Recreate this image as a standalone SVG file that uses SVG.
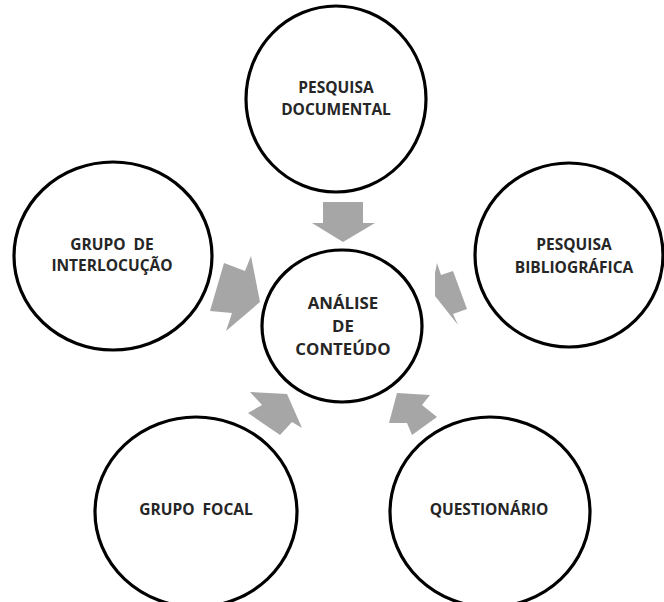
<svg xmlns="http://www.w3.org/2000/svg" width="664" height="602" viewBox="0 0 664 602">
<style>
.node{fill:#ffffff;stroke:#000000;stroke-width:3.2}
.lbl{font-family:"Open Sans","Liberation Sans",sans-serif;font-weight:700;font-size:15.5px;fill:#262626;text-anchor:middle;white-space:pre}
.big{font-size:16.8px}
.arrow{fill:#a6a6a6;stroke:none}
</style>
<rect width="664" height="602" fill="#ffffff"/>
<g id="n-documental">
<ellipse class="node" cx="336" cy="99" rx="90" ry="93"/>
<text class="lbl" x="336" y="93">PESQUISA</text>
<text class="lbl" x="336" y="115">DOCUMENTAL</text>
</g>
<g id="n-interlocucao">
<ellipse class="node" cx="113" cy="256" rx="99" ry="94"/>
<text class="lbl" x="112" y="250">GRUPO  DE</text>
<text class="lbl" x="112" y="271">INTERLOCUÇÃO</text>
</g>
<g id="n-bibliografica">
<ellipse class="node" cx="569" cy="255" rx="94" ry="92"/>
<text class="lbl" x="574" y="250">PESQUISA</text>
<text class="lbl" x="574" y="273">BIBLIOGRÁFICA</text>
</g>
<g id="n-analise">
<ellipse class="node" cx="342" cy="326" rx="80" ry="76"/>
<text class="lbl big" x="343" y="309">ANÁLISE</text>
<text class="lbl big" x="343" y="332">DE</text>
<text class="lbl big" x="343" y="355">CONTEÚDO</text>
</g>
<g id="n-focal">
<ellipse class="node" cx="196" cy="512" rx="101" ry="95"/>
<text class="lbl" x="196" y="515">GRUPO  FOCAL</text>
</g>
<g id="n-questionario">
<ellipse class="node" cx="490" cy="512" rx="100" ry="95"/>
<text class="lbl" x="489" y="515">QUESTIONÁRIO</text>
</g>
<g id="connectors">
<polygon class="arrow" points="323,202 363,202 363,223 375,223 343,242 312,223 323,223"/>
<polygon class="arrow" points="224,263 245,271 251,256 260,302 226,331 232,313 210,311"/>
<polygon class="arrow" points="437,263 441,275 453,271 467,309 453,314 458,325 435,296 435,273"/>
<polygon class="arrow" points="250,392 287,394 302,428 292,422 280,435 248,413 262,405"/>
<polygon class="arrow" points="397,393 430,395 422,405 437,417 412,435 407,423 389,423"/>
</g>
</svg>
